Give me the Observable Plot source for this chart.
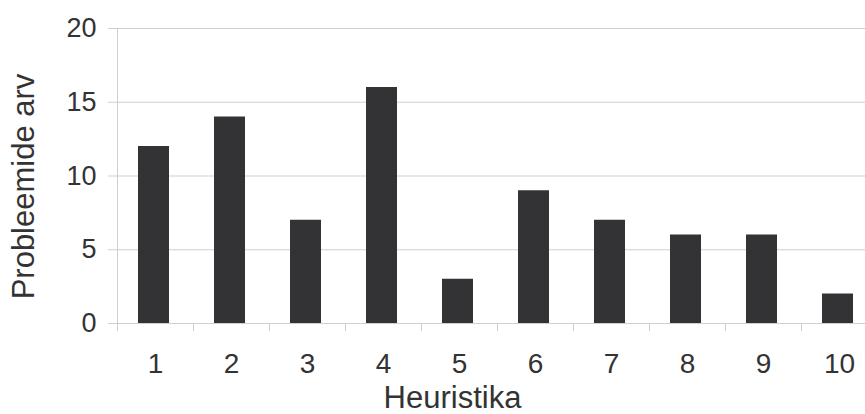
<!DOCTYPE html>
<html>
<head>
<meta charset="utf-8">
<script src="https://cdn.jsdelivr.net/npm/d3@7"></script>
<script src="https://cdn.jsdelivr.net/npm/@observablehq/plot@0.6"></script>
<style>
  html, body { margin: 0; padding: 0; background: #fff; }
  #chart svg { display: block; }
</style>
</head>
<body>
<div id="chart"></div>
<script>
const categories = ["1", "2", "3", "4", "5", "6", "7", "8", "9", "10"];
const values = [12, 14, 7, 16, 3, 9, 7, 6, 6, 2];
const yTicks = [0, 5, 10, 15, 20];
const xTitle = "Heuristika";
const yTitle = "Probleemide arv";

const data = categories.map((c, i) => ({cat: c, value: values[i]}));

const W = 865, H = 414;
const mL = 117, mR = -12, mT = 28, mB = 91;
const step = (W - mR - mL) / categories.length;
const font = "'Liberation Sans', Arial, Helvetica, sans-serif";
const grid = "#cfcfcf";

const chart = Plot.plot({
  width: W,
  height: H,
  marginLeft: mL,
  marginRight: mR,
  marginTop: mT,
  marginBottom: mB,
  style: {fontFamily: font, color: "#333", background: "#fff"},
  x: {domain: categories, padding: 0, axis: null},
  y: {domain: [0, 20], axis: null},
  marks: [
    Plot.ruleY(yTicks, {stroke: grid, strokeWidth: 1}),
    Plot.axisY({ticks: yTicks, tickSize: 9, tickPadding: 12, fontSize: 27, stroke: grid, fill: "#333", label: null}),
    Plot.ruleX([categories[0]], {x: d => d, dx: -step / 2, y1: 0, y2: 20, stroke: grid}),
    Plot.ruleX(categories, {x: d => d, dx: -step / 2, y1: 0, y2: 0, insetBottom: -8, stroke: grid}),
    Plot.barY(data, {x: "cat", y: "value", fill: "#333336", insetLeft: 21, insetRight: 24}),
    Plot.axisX({tickSize: 0, tickPadding: 30, fontSize: 28, fill: "#333", label: null}),
    Plot.text([xTitle], {frameAnchor: "bottom", textAnchor: "middle", lineAnchor: "top", dx: -45, dy: 62, fontSize: 31, fill: "#333"}),
    Plot.text([yTitle], {frameAnchor: "left", textAnchor: "middle", lineAnchor: "middle", rotate: -90, dx: -93, dy: 10.5, fontSize: 31, fill: "#333"})
  ]
});
document.getElementById("chart").appendChild(chart);
</script>
</body>
</html>
